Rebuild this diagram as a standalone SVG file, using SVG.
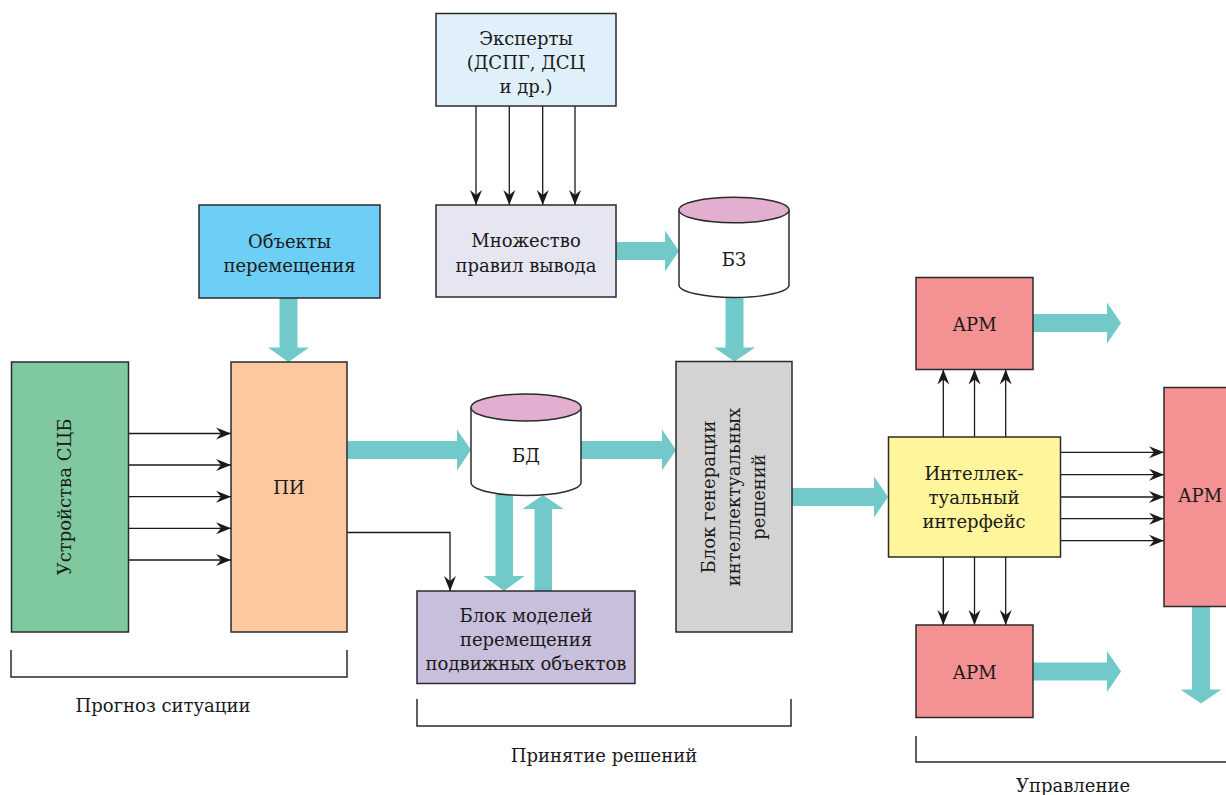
<svg xmlns="http://www.w3.org/2000/svg" width="1226" height="795" viewBox="0 0 1226 795">
  <defs>
    <style>
      .box { stroke: #2b2b2b; stroke-width: 1.5; }
      .lbl { font-family: "DejaVu Serif", "Liberation Serif", serif; font-size: 18px; fill: #1a1a1a; text-anchor: middle; }
      .wire { fill: none; stroke: #1a1a1a; stroke-width: 1.3; marker-end: url(#ah); }
      .flow { fill: #71c9c9; stroke: none; }
      .brace { fill: none; stroke: #2b2b2b; stroke-width: 1.5; }
    </style>
    <marker id="ah" viewBox="0 0 15 14" refX="15" refY="7" markerWidth="15" markerHeight="14" orient="auto" markerUnits="userSpaceOnUse">
      <path d="M0,1 L15,7 L0,13 L5,7 Z" fill="#1a1a1a"/>
    </marker>
  </defs>

  <rect width="1226" height="795" fill="#ffffff"/>

  <!-- wide flow arrows and thin connectors -->
  <g id="connectors">
    <!-- Объекты перемещения -> ПИ -->
    <polygon class="flow" points="279.5,298 297.5,298 297.5,347.5 309,347.5 288.5,362 268,347.5 279.5,347.5"/>
    <!-- Множество правил -> БЗ -->
    <polygon class="flow" points="616,242 665,242 665,230.5 679,251 665,271.5 665,260 616,260"/>
    <!-- БЗ -> Блок генерации -->
    <polygon class="flow" points="725.5,297 743.5,297 743.5,347.5 755,347.5 734.5,361.5 714,347.5 725.5,347.5"/>
    <!-- ПИ -> БД -->
    <polygon class="flow" points="347,441 457,441 457,429.5 471,450 457,470.5 457,459 347,459"/>
    <!-- БД -> Блок генерации -->
    <polygon class="flow" points="581,441 662,441 662,429.5 676,450 662,470.5 662,459 581,459"/>
    <!-- БД -> Блок моделей -->
    <polygon class="flow" points="495.5,494 513,494 513,576 524.5,576 504,591 483.5,576 495.5,576"/>
    <!-- Блок моделей -> БД -->
    <polygon class="flow" points="534.5,591 552,591 552,509 563.5,509 543,495 522.5,509 534.5,509"/>
    <!-- Блок генерации -> Интеллектуальный интерфейс -->
    <polygon class="flow" points="792,488 874,488 874,476.5 888,497 874,517.5 874,506 792,506"/>
    <!-- АРМ outputs -->
    <polygon class="flow" points="1033,314 1107,314 1107,302.5 1121,323 1107,343.5 1107,332 1033,332"/>
    <polygon class="flow" points="1033,662.5 1107,662.5 1107,651 1121,671.5 1107,692 1107,680.5 1033,680.5"/>
    <polygon class="flow" points="1192,606 1210,606 1210,689.5 1221.5,689.5 1201,703.5 1180.5,689.5 1192,689.5"/>

    <!-- Эксперты -> Множество правил вывода -->
    <line class="wire" x1="476" y1="106" x2="476" y2="205"/>
    <line class="wire" x1="509.3" y1="106" x2="509.3" y2="205"/>
    <line class="wire" x1="542.7" y1="106" x2="542.7" y2="205"/>
    <line class="wire" x1="575" y1="106" x2="575" y2="205"/>
    <!-- Устройства СЦБ -> ПИ -->
    <line class="wire" x1="128" y1="433.5" x2="231" y2="433.5"/>
    <line class="wire" x1="128" y1="465" x2="231" y2="465"/>
    <line class="wire" x1="128" y1="496.7" x2="231" y2="496.7"/>
    <line class="wire" x1="128" y1="528.3" x2="231" y2="528.3"/>
    <line class="wire" x1="128" y1="560" x2="231" y2="560"/>
    <!-- ПИ -> Блок моделей -->
    <path class="wire" d="M347,532.5 H450 V591"/>
    <!-- Интеллектуальный интерфейс -> АРМ (top) -->
    <line class="wire" x1="943.3" y1="437" x2="943.3" y2="369.5"/>
    <line class="wire" x1="974.5" y1="437" x2="974.5" y2="369.5"/>
    <line class="wire" x1="1005.7" y1="437" x2="1005.7" y2="369.5"/>
    <!-- Интеллектуальный интерфейс -> АРМ (bottom) -->
    <line class="wire" x1="943.3" y1="557" x2="943.3" y2="625"/>
    <line class="wire" x1="974.5" y1="557" x2="974.5" y2="625"/>
    <line class="wire" x1="1005.7" y1="557" x2="1005.7" y2="625"/>
    <!-- Интеллектуальный интерфейс -> АРМ (right) -->
    <line class="wire" x1="1060" y1="452.3" x2="1164" y2="452.3"/>
    <line class="wire" x1="1060" y1="474.7" x2="1164" y2="474.7"/>
    <line class="wire" x1="1060" y1="497" x2="1164" y2="497"/>
    <line class="wire" x1="1060" y1="518.7" x2="1164" y2="518.7"/>
    <line class="wire" x1="1060" y1="540.7" x2="1164" y2="540.7"/>
  </g>

  <g id="experts">
    <rect class="box" x="436" y="13.5" width="180" height="92.5" fill="#dff0fb"/>
    <text class="lbl" x="526" y="44.5">Эксперты</text>
    <text class="lbl" x="526" y="68.5">(ДСПГ, ДСЦ</text>
    <text class="lbl" x="526" y="92.5">и др.)</text>
  </g>

  <g id="rules">
    <rect class="box" x="436" y="205" width="180" height="92" fill="#e6e6f3"/>
    <text class="lbl" x="526" y="247">Множество</text>
    <text class="lbl" x="526" y="271.5">правил вывода</text>
  </g>

  <g id="kb">
    <path class="box" d="M679,210 V285 A55,12.5 0 0 0 789,285 V210" fill="#ffffff"/>
    <ellipse class="box" cx="734" cy="210" rx="55" ry="12.7" fill="#e2afd1"/>
    <text class="lbl" x="734" y="266">БЗ</text>
  </g>

  <g id="objects">
    <rect class="box" x="199" y="205" width="181" height="93" fill="#6dcff6"/>
    <text class="lbl" x="289.5" y="247.5">Объекты</text>
    <text class="lbl" x="289.5" y="272">перемещения</text>
  </g>

  <g id="devices">
    <rect class="box" x="11.5" y="362" width="117" height="270" fill="#80c99f"/>
    <text class="lbl" transform="translate(70.5,497) rotate(-90)">Устройства СЦБ</text>
  </g>

  <g id="pi">
    <rect class="box" x="231" y="362" width="116" height="270" fill="#fdc79f"/>
    <text class="lbl" x="289" y="494">ПИ</text>
  </g>

  <g id="db">
    <path class="box" d="M471,407.5 V482.5 A55,13 0 0 0 581,482.5 V407.5" fill="#ffffff"/>
    <ellipse class="box" cx="526" cy="407.5" rx="55" ry="13.5" fill="#e2afd1"/>
    <text class="lbl" x="526" y="462">БД</text>
  </g>

  <g id="models">
    <rect class="box" x="417" y="591" width="218" height="92.5" fill="#c8bfdc"/>
    <text class="lbl" x="526" y="622">Блок моделей</text>
    <text class="lbl" x="526" y="646">перемещения</text>
    <text class="lbl" x="526" y="670">подвижных объектов</text>
  </g>

  <g id="generator">
    <rect class="box" x="676" y="361.5" width="116" height="270.5" fill="#d3d3d4"/>
    <text class="lbl" transform="translate(715,497) rotate(-90)">Блок генерации</text>
    <text class="lbl" transform="translate(740,497) rotate(-90)">интеллектуальных</text>
    <text class="lbl" transform="translate(764.5,497) rotate(-90)">решений</text>
  </g>

  <g id="interface">
    <rect class="box" x="888.5" y="437" width="172" height="120" fill="#fff59b"/>
    <text class="lbl" x="974" y="480">Интеллек-</text>
    <text class="lbl" x="974" y="504">туальный</text>
    <text class="lbl" x="974" y="528">интерфейс</text>
  </g>

  <g id="arm-top">
    <rect class="box" x="916" y="277.5" width="117" height="92" fill="#f39193"/>
    <text class="lbl" x="974.5" y="331">АРМ</text>
  </g>

  <g id="arm-bottom">
    <rect class="box" x="916" y="625" width="117" height="92.5" fill="#f39193"/>
    <text class="lbl" x="974.5" y="679">АРМ</text>
  </g>

  <g id="arm-right">
    <rect class="box" x="1164" y="387.5" width="80" height="219" fill="#f39193"/>
    <text class="lbl" x="1200" y="501.5">АРМ</text>
  </g>

  <!-- stage brackets -->
  <g id="stage-forecast">
    <path class="brace" d="M11,650 V677 H347 V650"/>
    <text class="lbl" x="163" y="712">Прогноз ситуации</text>
  </g>
  <g id="stage-decision">
    <path class="brace" d="M417,699 V726 H791 V699"/>
    <text class="lbl" x="604" y="762">Принятие решений</text>
  </g>
  <g id="stage-control">
    <path class="brace" d="M916,736 V762 H1230"/>
    <text class="lbl" x="1073" y="792">Управление</text>
  </g>
</svg>
